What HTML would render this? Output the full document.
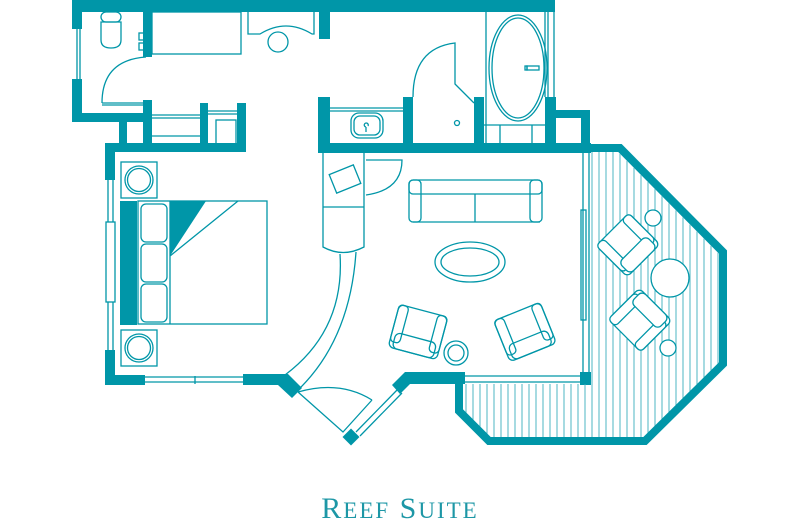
<!DOCTYPE html>
<html><head><meta charset="utf-8"><style>
html,body{margin:0;padding:0;background:#fff;width:800px;height:530px;overflow:hidden}
svg{display:block}
</style></head><body>
<svg width="800" height="530" viewBox="0 0 800 530" xmlns="http://www.w3.org/2000/svg">
<defs>
<clipPath id="deck">
<polygon points="590,152 618,152 720,255 720,362 643,438 490,438 462,410 462,384 590,384"/>
</clipPath>
</defs>
<g fill="#0096a8" stroke="none">
<!-- top walls -->
<rect x="72" y="0" width="483" height="12"/>
<rect x="72" y="0" width="10" height="29"/>
<rect x="72" y="79" width="10" height="43"/>
<rect x="72" y="113" width="80" height="9"/>
<rect x="143" y="12" width="9" height="45"/>
<rect x="143" y="100" width="9" height="50"/>
<rect x="119" y="120" width="8" height="30"/>
<rect x="105" y="143" width="141" height="9"/>
<rect x="200" y="103" width="8" height="45"/>
<rect x="237" y="103" width="9" height="48"/>
<rect x="319" y="12" width="11" height="27"/>
<!-- middle bath -->
<rect x="318" y="97" width="12" height="55"/>
<rect x="318" y="143" width="273" height="10"/>
<rect x="403" y="97" width="10" height="50"/>
<rect x="474" y="97" width="10" height="50"/>
<rect x="545" y="97" width="11" height="50"/>
<rect x="545" y="110" width="45" height="8"/>
<rect x="581" y="110" width="9" height="43"/>
<!-- bedroom -->
<rect x="105" y="143" width="10" height="37"/>
<rect x="105" y="350" width="10" height="35"/>
<rect x="105" y="375" width="40" height="10"/>
<rect x="243" y="374" width="42" height="11"/>
<polygon points="280,374 288,374 302,388 292,398 278,385"/>
<!-- entry -->
<rect x="345" y="431" width="12" height="12" transform="rotate(45 351 437)"/>
<polygon points="392,385 405,372 465,372 465,384 410,384 400,394"/>
<rect x="455" y="372" width="8" height="40"/>
<rect x="580" y="372" width="11" height="13"/>
<!-- nightstand headboard -->
<rect x="120" y="201" width="17" height="124"/>
<polygon points="170,201 206,201 170,256"/>
</g>
<!-- deck hatching -->
<g clip-path="url(#deck)" stroke="#2aa9b8" stroke-width="1" opacity="0.85">
<g id="h">
</g>
</g>
<g clip-path="url(#deck)" stroke="#3aafbd" stroke-width="0.9">
<path d="M466 380V440M473 380V440M480 380V440M487 380V440M494 380V440M501 380V440M508 380V440M515 380V440M522 380V440M529 380V440M536 380V440M543 380V440M550 380V440M557 380V440M564 380V440M571 380V440M578 380V440M585 380V440M592 150V440M599 150V440M606 150V440M613 150V440M620 150V440M627 150V440M634 150V440M641 150V440M648 150V440M655 150V440M662 150V440M669 150V440M676 150V440M683 150V440M690 150V440M697 150V440M704 150V440M711 150V440M718 150V440"/>
</g>
<!-- deck outer wall -->
<polyline points="590,148 620,148 723,252 723,364 645,441 489,441 459,411 459,380" fill="none" stroke="#0096a8" stroke-width="8" stroke-linejoin="miter"/>
<g fill="none" stroke="#0096a8" stroke-width="1.3">
<!-- windows -->
<path d="M77 29V79M80 29V79"/>
<path d="M108 180V350M113 180V350"/>
<rect x="106" y="222" width="9" height="80" fill="#fff"/>
<path d="M145 377H243M145 382H243M195 376V384"/>
<path d="M356 432L398 389M360 436L402 393"/>
<path d="M463 376H582M463 382H582"/>
<path d="M583 153V372M589 153V372"/>
<rect x="581" y="210" width="5" height="110"/>
<path d="M548 12V98M554 12V98"/>
<!-- bath fixtures -->
<rect x="101" y="12" width="20" height="10" rx="5"/>
<path d="M101 22H121V40Q121 48 111 48Q101 48 101 40Z"/>
<rect x="139" y="33" width="5" height="7"/><rect x="139" y="43" width="5" height="7"/>
<rect x="152" y="12" width="89" height="42"/>
<path d="M248 12V34H260Q273 26 286 26Q299 26 312 34H314V12"/>
<circle cx="278" cy="42" r="10"/>
<path d="M102 103Q102 60 146 57"/>
<path d="M102 103H152M102 105H152"/>
<path d="M152 115H200M152 118H200M152 136H200"/>
<path d="M208 111H246M208 114H246"/>
<rect x="216" y="120" width="20" height="25"/>
<!-- middle bath -->
<path d="M330 108H403M330 111H403"/>
<rect x="351" y="113" width="32" height="25" rx="8"/>
<rect x="354" y="116" width="26" height="19" rx="6"/>
<path d="M366 127V132M366 127a2 2 0 1 1 2 -1"/>
<path d="M413 97Q413 48 455 43V84L474 103M455 84L472 101"/>
<circle cx="457" cy="123" r="2.5"/>
<path d="M486 12V143M545 12V97"/>
<ellipse cx="518" cy="68" rx="29" ry="53"/>
<ellipse cx="518" cy="68" rx="26" ry="50"/>
<rect x="527" y="66" width="12" height="4"/><rect x="525" y="66" width="2" height="4"/>
<path d="M484 125H545M500 125V143M532 125V143"/>
<!-- bedroom furniture -->
<rect x="121" y="162" width="36" height="36"/>
<circle cx="139" cy="180" r="14"/><circle cx="139" cy="180" r="11.5"/>
<rect x="121" y="330" width="36" height="36"/>
<circle cx="139" cy="348" r="14"/><circle cx="139" cy="348" r="11.5"/>
<rect x="138" y="201" width="129" height="123"/>
<path d="M170 201V324M170 256L238 201"/>
<rect x="141" y="204" width="26" height="38" rx="5"/>
<rect x="141" y="244" width="26" height="38" rx="5"/>
<rect x="141" y="284" width="26" height="38" rx="5"/>
<!-- cabinet & hallway -->
<path d="M323 153V247Q343 258 364 247V153M323 207H364"/>
<rect x="332" y="169" width="26" height="20" transform="rotate(-22 345 179)"/>
<path d="M340 254Q345 330 285 375M356 252Q350 340 298 390"/>
<path d="M366 160H402Q402 190 366 195" />
<!-- entry door -->
<path d="M298 392L343 432L372 400M298 392Q340 380 372 400"/>
<!-- living -->
<rect x="409" y="180" width="133" height="14" rx="4"/>
<rect x="409" y="180" width="12" height="42" rx="4"/>
<rect x="530" y="180" width="12" height="42" rx="4"/>
<path d="M413 222H540M475 194V222"/>
<ellipse cx="470" cy="262" rx="35" ry="20"/>
<ellipse cx="470" cy="262" rx="29" ry="14"/>
<g transform="rotate(15 418 332)">
<rect x="393" y="310" width="50" height="44" rx="5"/><rect x="393" y="310" width="10" height="38" rx="4"/><rect x="433" y="310" width="10" height="38" rx="4"/><rect x="397" y="338" width="42" height="16" rx="5"/>
</g>
<circle cx="456" cy="353" r="12"/><circle cx="456" cy="353" r="8"/>
<g transform="rotate(-22 525 332)">
<rect x="500" y="310" width="50" height="44" rx="5"/><rect x="500" y="310" width="10" height="38" rx="4"/><rect x="540" y="310" width="10" height="38" rx="4"/><rect x="504" y="338" width="42" height="16" rx="5"/>
</g>
<!-- deck furniture -->
<g fill="#fff">
<circle cx="653" cy="218" r="8"/>
<circle cx="670" cy="278" r="19"/>
<circle cx="668" cy="348" r="8"/>
<g transform="rotate(-45 628 245)">
<rect x="605" y="223" width="46" height="44" rx="5"/><rect x="605" y="223" width="10" height="38" rx="4"/><rect x="641" y="223" width="10" height="38" rx="4"/><rect x="609" y="251" width="38" height="16" rx="5"/>
</g>
<g transform="rotate(-135 640 320)">
<rect x="617" y="298" width="46" height="44" rx="5"/><rect x="617" y="298" width="10" height="38" rx="4"/><rect x="653" y="298" width="10" height="38" rx="4"/><rect x="621" y="326" width="38" height="16" rx="5"/>
</g>
</g>
</g>
<text x="400" y="518" text-anchor="middle" font-family="'Liberation Serif',serif" font-size="30" fill="#1d97a6" letter-spacing="2">R<tspan font-size="23">EEF</tspan> S<tspan font-size="23">UITE</tspan></text>
</svg>
</body></html>
